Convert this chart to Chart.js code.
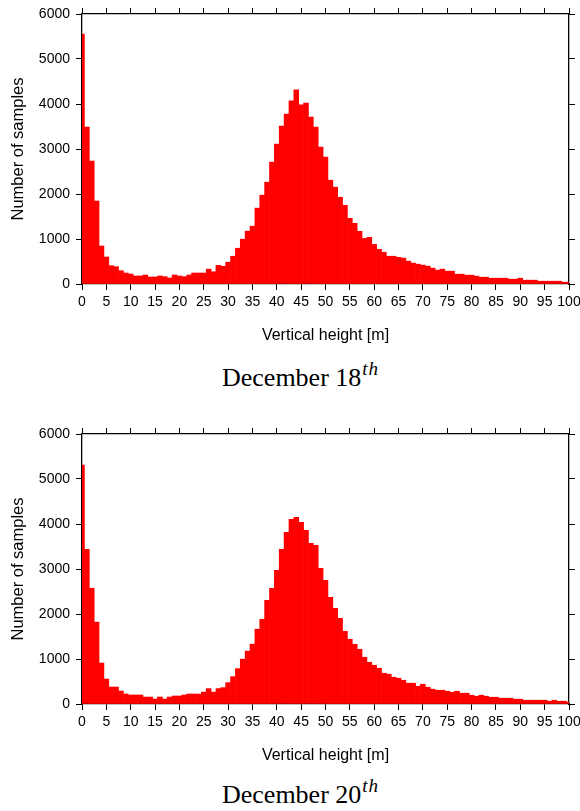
<!DOCTYPE html>
<html>
<head>
<meta charset="utf-8">
<script src="https://cdn.jsdelivr.net/npm/chart.js@4"></script>
<style>
  body { margin: 0; background: #fff; }
  #wrap { position: relative; width: 580px; height: 811px; overflow: hidden; }
  canvas { position: absolute; left: 0; }
  .cap {
    position: absolute; left: 222px; white-space: nowrap;
    font-family: "Liberation Serif", "Times New Roman", serif;
    font-size: 26px; line-height: 26px; color: #000;
  }
  .cap .sup { position: relative; top: -11px; font-style: italic; font-size: 19px; margin-left: 1px; letter-spacing: 1px; }
</style>
</head>
<body>
<div id="wrap">
  <canvas id="dec18" width="580" height="350" style="top:0"></canvas>
  <div class="cap" style="top:365px">December 18<span class="sup">th</span></div>
  <canvas id="dec20" width="580" height="350" style="top:420px"></canvas>
  <div class="cap" style="top:782px">December 20<span class="sup">th</span></div>
</div>
<script>
// bin centres, 1 m bins
var heights = [0,1,2,3,4,5,6,7,8,9,10,11,12,13,14,15,16,17,18,19,20,21,22,23,24,25,26,27,28,29,30,
  31,32,33,34,35,36,37,38,39,40,41,42,43,44,45,46,47,48,49,50,51,52,53,54,55,56,57,58,59,60,
  61,62,63,64,65,66,67,68,69,70,71,72,73,74,75,76,77,78,79,80,81,82,83,84,85,86,87,88,89,90,
  91,92,93,94,95,96,97,98,99,100];

var samplesDec18 = [5556,3489,2733,1844,844,600,407,385,296,244,
  222,178,178,200,156,156,178,163,133,200,
  178,163,200,244,244,244,330,272,415,395,
  484,617,795,995,1174,1285,1686,1973,2262,2708,
  3110,3511,3778,4068,4313,3979,4023,3711,3488,3043,
  2820,2307,2151,1928,1750,1460,1349,1170,1014,1036,
  880,772,705,617,617,594,575,508,464,441,
  419,397,352,308,330,285,285,218,218,196,
  196,174,152,152,129,129,129,129,107,107,
  129,85,85,85,62,62,62,62,62,40,40];

var samplesDec20 = [5311,3439,2574,1820,910,555,377,377,288,222,
  200,200,200,155,155,111,155,111,155,178,
  178,200,222,222,220,264,342,264,342,364,
  475,608,786,997,1174,1330,1662,1883,2304,2571,
  2970,3437,3814,4103,4147,4036,3858,3570,3525,3015,
  2748,2371,2127,1905,1616,1439,1328,1217,1039,928,
  861,795,684,662,595,573,528,462,462,395,
  440,373,329,306,306,284,262,284,240,240,
  195,173,195,173,151,151,129,129,129,107,
  107,84,84,84,84,84,62,84,62,62,40];

var xTicks = [0,5,10,15,20,25,30,35,40,45,50,55,60,65,70,75,80,85,90,95,100];
var yTicks = [0,1000,2000,3000,4000,5000,6000];

var tickFont = { family: '"Liberation Sans", Arial, sans-serif', size: 14 };
var titleFont = { family: '"Liberation Sans", Arial, sans-serif', size: 16 };

// one side of the boxed frame; all four sides carry outward tick marks
function frameAxis(pos, size, labels) {
  var horiz = (pos === 'top' || pos === 'bottom');
  return {
    type: 'linear',
    position: pos,
    min: horiz ? xTicks[0] : yTicks[0],
    max: horiz ? xTicks[xTicks.length - 1] : yTicks[yTicks.length - 1],
    offset: false,
    afterBuildTicks: function (s) {
      s.ticks = (horiz ? xTicks : yTicks).map(function (v) { return { value: v }; });
    },
    ticks: {
      display: true,
      autoSkip: false,
      maxRotation: 0,
      padding: horiz ? 4 : 6,
      color: '#000',
      font: tickFont,
      callback: function (v) { return labels ? String(v) : ''; }
    },
    grid: { display: true, drawOnChartArea: false, drawTicks: true, tickLength: 6, color: '#000', lineWidth: 1, offset: false },
    border: { display: true, color: '#000', width: 1.3 },
    afterFit: function (s) {
      if (horiz) { s.height = size; s.paddingLeft = 0; s.paddingRight = 0; }
      else { s.width = size; s.paddingTop = 0; s.paddingBottom = 0; }
    }
  };
}

function drawHistogram(canvasId, counts) {
  var ctx = document.getElementById(canvasId).getContext('2d');
  var xAxis = frameAxis('bottom', 66, true);
  xAxis.title = { display: true, text: 'Vertical height [m]', color: '#000', font: titleFont, padding: { top: 0, bottom: 5 } };
  var yAxis = frameAxis('left', 82, true);
  yAxis.title = { display: true, text: 'Number of samples', color: '#000', font: { family: titleFont.family, size: 16.5 }, padding: { top: 9, bottom: 0 } };

  new Chart(ctx, {
    type: 'bar',
    data: {
      datasets: [{
        label: 'Number of samples',
        data: heights.map(function (h, i) { return { x: h, y: counts[i] }; }),
        backgroundColor: '#ff0000',
        borderWidth: 0,
        barPercentage: 1.0,
        categoryPercentage: 1.0,
        clip: 0
      }]
    },
    options: {
      responsive: false,
      animation: false,
      layout: { padding: 0 },
      plugins: { legend: { display: false }, tooltip: { enabled: false } },
      scales: {
        x: xAxis,
        y: yAxis,
        xTop: frameAxis('top', 14, false),
        yRight: frameAxis('right', 11, false)
      }
    }
  });
}

drawHistogram('dec18', samplesDec18);
drawHistogram('dec20', samplesDec20);
</script>
</body>
</html>
